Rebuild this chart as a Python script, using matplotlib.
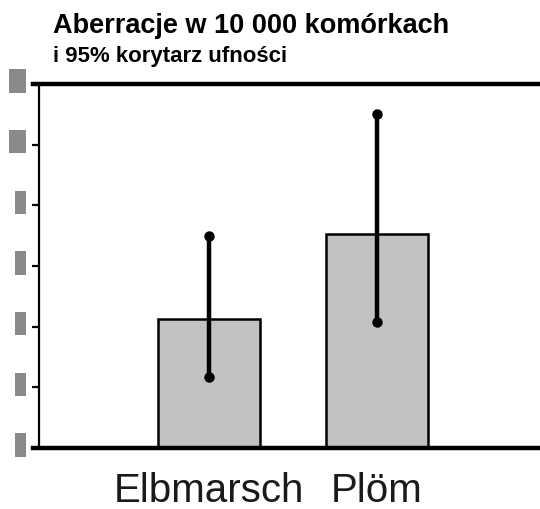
import matplotlib
matplotlib.use("Agg")
from matplotlib import pyplot as plt
from matplotlib import transforms

# data (y in label units, ticks 0..12)
categories = ["Elbmarsch", "Plöm"]
values = [4.26, 7.04]
ci_low = [2.34, 4.16]
ci_high = [7.0, 11.0]
yticks = [0, 2, 4, 6, 8, 10, 12]
title = "Aberracje w 10 000 komórkach"
subtitle = "i 95% korytarz ufności"

plt.rcParams['font.family'] = ['Liberation Sans', 'DejaVu Sans']

fig = plt.figure(figsize=(5.4, 5.09), dpi=100)
ax = fig.add_axes([0.0722, 0.1198, 0.9278, 0.7152])

xs = list(range(len(categories)))
ax.bar(xs, values, width=0.607, color='#c2c2c2', edgecolor='black', linewidth=1.8, zorder=2)
ax.vlines(xs, ci_low, ci_high, color='black', linewidth=3.2, zorder=3)
ax.plot(xs, ci_low, 'o', color='black', markersize=6.5, zorder=4)
ax.plot(xs, ci_high, 'o', color='black', markersize=6.5, zorder=4)

ax.set_xlim(-1.009, 1.973)
ax.set_ylim(0, 12)

for s in ['top', 'bottom', 'right']:
    ax.spines[s].set_visible(False)
ax.spines['left'].set_linewidth(1.6)
ax.axhline(12, xmin=-0.012, xmax=1, color='black', linewidth=3.2, clip_on=False, zorder=5)
ax.axhline(0, xmin=-0.012, xmax=1, color='black', linewidth=3.2, clip_on=False, zorder=5)

ax.set_xticks(xs)
ax.set_xticklabels(categories, fontsize=29, color='#1a1a1a')
ax.tick_params(axis='x', length=0, pad=17)

# y labels are blanked out in the reference: draw them as grey blocks
ax.set_yticks(yticks)
ax.set_yticklabels([str(v) for v in yticks], fontsize=8, color='#8a8a8a')
ax.tick_params(axis='y', direction='out', length=5, width=1.6, pad=6)
shift = transforms.ScaledTranslation(0, 4 / 100, fig.dpi_scale_trans)
for lab in ax.get_yticklabels():
    lab.set_bbox(dict(facecolor='#8a8a8a', edgecolor='none', pad=1.7, mutation_aspect=2.8))
    lab.set_transform(lab.get_transform() + shift)

fig.text(0.098, 0.935, title, fontsize=19.5, fontweight='bold', va='baseline')
fig.text(0.098, 0.878, subtitle, fontsize=16, fontweight='bold', va='baseline')

fig.savefig("out.png", dpi=100)
